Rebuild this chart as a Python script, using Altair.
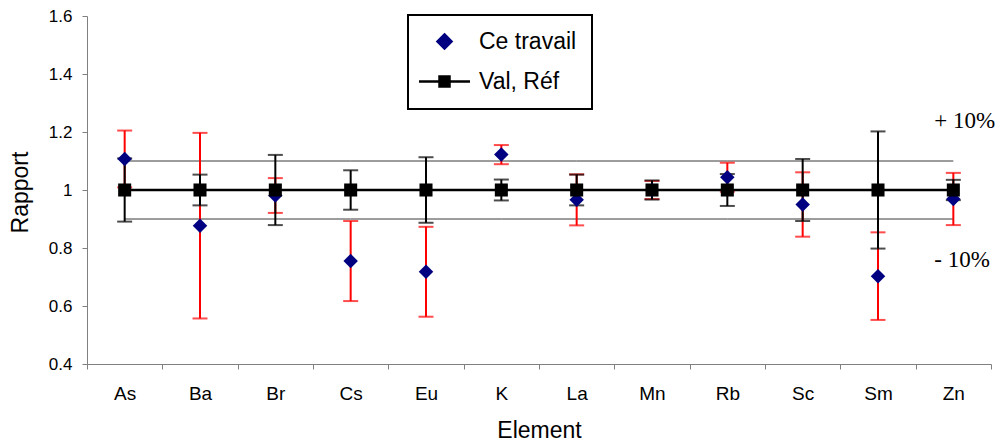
import altair as alt
import pandas as pd

elements = ["As", "Ba", "Br", "Cs", "Eu", "K", "La", "Mn", "Rb", "Sc", "Sm", "Zn"]
ce_values = [1.107, 0.877, 0.981, 0.755, 0.718, 1.122, 0.966, 1.000, 1.044, 0.950, 0.703, 0.969]
ce_errors = [0.098, 0.320, 0.060, 0.138, 0.155, 0.033, 0.088, 0.031, 0.050, 0.111, 0.151, 0.090]
ref_values = [1.0, 1.0, 1.0, 1.0, 1.0, 1.0, 1.0, 1.0, 1.0, 1.0, 1.0, 1.0]
ref_errors = [0.109, 0.053, 0.121, 0.068, 0.113, 0.036, 0.053, 0.033, 0.055, 0.107, 0.202, 0.035]
band_levels = [1.1, 0.9]
band_labels = ["+ 10%", "- 10%"]
band_label_y = [1.238, 0.759]
series_names = ["Ce travail", "Val, Réf"]
y_ticks = [0.4, 0.6, 0.8, 1.0, 1.2, 1.4, 1.6]

FONT = "Liberation Sans"

df_ce = pd.DataFrame({"element": elements, "value": ce_values, "err": ce_errors})
df_ref = pd.DataFrame({"element": elements, "value": ref_values, "err": ref_errors})
df_band = pd.DataFrame(
    [{"element": e, "value": lv, "lvl": str(lv)} for lv in band_levels for e in elements]
)
df_lab = pd.DataFrame({"element": ["Zn", "Zn"], "value": band_label_y, "label": band_labels})
df_leg = pd.DataFrame({"element": ["As", "As"], "value": [1.0, 1.0], "series": series_names})


def X():
    return alt.X(
        "element:N",
        sort=elements,
        scale=alt.Scale(type="band", domain=elements, paddingInner=0, paddingOuter=0),
        axis=alt.Axis(
            labelAngle=0, tickBand="extent", tickSize=5, labelPadding=15,
            labelFont=FONT, labelFontSize=19, labelColor="black",
            domainColor="#808080", tickColor="#808080", grid=False,
            titleFont=FONT, titleFontSize=23, titleFontWeight="normal", titleColor="black",
            titleBaseline="alphabetic", titleY=73,
        ),
        title="Element",
    )


def Y(field):
    return alt.Y(
        f"{field}:Q",
        scale=alt.Scale(domain=[0.4, 1.6], nice=False, zero=False),
        axis=alt.Axis(
            values=y_ticks, format=".1~f", tickSize=5, labelPadding=10,
            labelFont=FONT, labelFontSize=17, labelColor="black",
            domainColor="#808080", tickColor="#808080", grid=False,
            titleFont=FONT, titleFontSize=23, titleFontWeight="normal", titleColor="black",
            titleAngle=-90, titleBaseline="alphabetic", titleAlign="center",
            titleX=-60, titleY=176,
        ),
        title="Rapport",
    )


band_lines = alt.Chart(df_band).mark_line(color="#3a3a3a", strokeWidth=1).encode(
    x=X(), y=Y("value"), detail="lvl:N"
)

ce_base = alt.Chart(df_ce).transform_calculate(
    lo="datum.value - datum.err", hi="datum.value + datum.err"
)
red_rule = ce_base.mark_rule(color="#FF0000", strokeWidth=2).encode(x=X(), y=Y("lo"), y2="hi:Q")
red_cap_lo = ce_base.mark_tick(color="#FF0000", size=15, thickness=2).encode(x=X(), y=Y("lo"))
red_cap_hi = ce_base.mark_tick(color="#FF0000", size=15, thickness=2).encode(x=X(), y=Y("hi"))

ref_base = alt.Chart(df_ref).transform_calculate(
    lo="datum.value - datum.err", hi="datum.value + datum.err"
)
blk_rule = ref_base.mark_rule(color="black", strokeWidth=2).encode(x=X(), y=Y("lo"), y2="hi:Q")
blk_cap_lo = ref_base.mark_tick(color="black", size=15, thickness=2).encode(x=X(), y=Y("lo"))
blk_cap_hi = ref_base.mark_tick(color="black", size=15, thickness=2).encode(x=X(), y=Y("hi"))

diamonds = alt.Chart(df_ce).mark_point(
    shape="diamond", filled=True, color="#000080", size=210, opacity=1
).encode(x=X(), y=Y("value"))

ref_line = alt.Chart(df_ref).mark_line(color="black", strokeWidth=2.5).encode(x=X(), y=Y("value"))
squares = alt.Chart(df_ref).mark_point(
    shape="square", filled=True, color="black", size=170, opacity=1
).encode(x=X(), y=Y("value"))

labels = alt.Chart(df_lab).mark_text(
    align="left", baseline="middle", dx=-19, font="Liberation Serif", fontSize=23, color="black"
).encode(x=X(), y=Y("value"), text="label:N")

diamond_path = "M0,-0.7L0.7,0L0,0.7L-0.7,0Z"
val_path = "M-2.55,0H2.55M-0.5,-0.5H0.5V0.5H-0.5Z"

leg = alt.Legend(
    orient="none", legendX=321, legendY=-1, padding=15, symbolOffset=10,
    labelOffset=23, rowPadding=16, labelFont=FONT, labelFontSize=23,
    labelColor="black", symbolSize=400, symbolStrokeWidth=2.5,
    strokeColor="black", fillColor="white",
)

legend_layer = alt.Chart(df_leg).transform_filter("datum.value > 5").mark_point(
    filled=True, opacity=1
).encode(
    x=X(),
    y=Y("value"),
    color=alt.Color("series:N", scale=alt.Scale(domain=series_names, range=["#000080", "#000000"]), legend=leg, title=None),
    stroke=alt.Stroke("series:N", scale=alt.Scale(domain=series_names, range=["#000080", "#000000"]), legend=leg, title=None),
    shape=alt.Shape("series:N", scale=alt.Scale(domain=series_names, range=[diamond_path, val_path]), legend=leg, title=None),
)

chart = alt.layer(
    band_lines, red_rule, red_cap_lo, red_cap_hi, blk_rule, blk_cap_lo, blk_cap_hi,
    diamonds, ref_line, squares, labels, legend_layer,
).properties(
    width=904, height=348,
    padding={"left": 87, "top": 16, "right": 8, "bottom": 80},
    autosize=alt.AutoSizeParams(type="none"),
    background="white",
).configure_view(strokeWidth=0).configure_legend(strokeWidth=2)

chart.save("out.html", embed_options={"renderer": "svg", "actions": False})
